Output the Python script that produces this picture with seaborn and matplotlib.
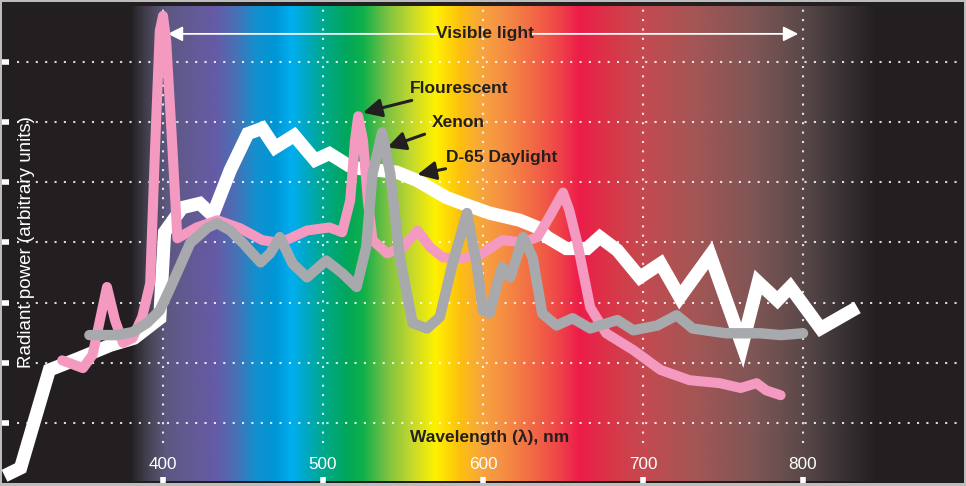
import numpy as np
import pandas as pd
import seaborn as sns
import matplotlib.pyplot as plt
from matplotlib.colors import to_rgb

# --------------
# spectral power curves (wavelength nm, arbitrary units)
d65_nm = [301, 311, 329, 348, 367, 382, 398, 401, 412, 423, 431, 442, 453, 462,
          470, 482, 495, 504, 516, 523, 546, 559, 577, 587, 604, 623, 634, 640,
          652, 665, 673, 684, 698, 711, 723, 742, 762, 772, 784, 792, 811, 834]
d65_val = [0.12, 0.25, 1.88, 2.08, 2.29, 2.41, 2.74, 4.17, 4.58, 4.65, 4.45, 5.20,
           5.81, 5.90, 5.58, 5.78, 5.37, 5.48, 5.28, 5.23, 5.17, 5.03, 4.75, 4.65,
           4.49, 4.37, 4.25, 4.09, 3.90, 3.90, 4.09, 3.87, 3.42, 3.65, 3.09, 3.79,
           2.29, 3.34, 3.04, 3.26, 2.57, 2.92]

fluo_nm = [337, 350, 356, 365, 370, 375, 381, 387, 392, 395, 398, 400, 402, 406,
           409, 421, 434, 448, 462, 473, 490, 504, 512, 517, 520, 522, 525, 528,
           531, 540, 550, 559, 567, 575, 587, 598, 612, 625, 634, 642, 650, 654,
           659, 667, 677, 694, 711, 729, 748, 761, 771, 777, 786]
fluo_val = [2.04, 1.91, 2.13, 3.26, 2.71, 2.33, 2.41, 2.76, 3.32, 5.53, 7.52, 7.77,
            7.36, 5.53, 4.07, 4.25, 4.37, 4.24, 4.04, 3.99, 4.20, 4.25, 4.17, 4.70,
            5.70, 6.10, 5.70, 4.70, 4.04, 3.82, 3.92, 4.20, 3.92, 3.75, 3.74, 3.79,
            4.04, 4.00, 4.09, 4.45, 4.83, 4.53, 3.99, 2.92, 2.49, 2.21, 1.88, 1.71,
            1.66, 1.58, 1.66, 1.54, 1.46]

xenon_nm = [354, 371, 381, 390, 398, 404, 417, 428, 434, 442, 450, 461, 467, 473,
            481, 490, 502, 512, 521, 527, 531, 537, 542, 548, 556, 565, 573, 581,
            590, 596, 600, 604, 609, 612, 617, 621, 625, 631, 637, 646, 656, 667,
            684, 694, 709, 721, 731, 752, 773, 786, 800]
xenon_val = [2.46, 2.46, 2.51, 2.66, 2.87, 3.21, 3.99, 4.25, 4.32, 4.20, 3.99, 3.67,
             3.82, 4.09, 3.65, 3.42, 3.70, 3.49, 3.26, 3.92, 5.15, 5.83, 5.15, 3.75,
             2.66, 2.57, 2.76, 3.65, 4.49, 3.65, 2.87, 2.82, 3.32, 3.59, 3.42, 3.75,
             4.09, 3.75, 2.82, 2.62, 2.74, 2.57, 2.71, 2.54, 2.62, 2.79, 2.57, 2.49,
             2.49, 2.46, 2.49]

# colour stops of the spectrum band behind the chart
spec_nm = [380, 383, 392, 402, 420, 432, 445, 458, 470, 480, 490, 500, 515, 525,
           540, 555, 570, 585, 600, 615, 630, 645, 660, 680, 700, 730, 770, 800,
           820, 845]
spec_col = ['#231f20', '#2e2b32', '#4a4658', '#5d5880', '#635a98', '#665aa6',
            '#4a70b5', '#1390cf', '#0096d6', '#00aeef', '#00a8c0', '#00a88c',
            '#00a65a', '#10b04a', '#7cc242', '#c4d82e', '#fff200', '#fdc10e',
            '#f7a340', '#f58a44', '#f26b45', '#ef4a48', '#ed1c4a', '#d83748',
            '#c44a50', '#a65555', '#7e5655', '#5a4848', '#3e3638', '#231f20']

xticks = [400, 500, 600, 700, 800]
yticks = [1, 2, 3, 4, 5, 6, 7]

# --------------
sns.set_style('dark')
plt.rcParams['font.family'] = ['Liberation Sans', 'DejaVu Sans']

fig = plt.figure(figsize=(9.66, 4.86), dpi=100, facecolor='#bdbdbd')
ax = fig.add_axes([2 / 966, 3 / 486, 962 / 966, 481 / 486])
ax.set_facecolor('#231f20')

# spectrum band
grid = np.linspace(spec_nm[0], spec_nm[-1], 800)
rgb = np.array([to_rgb(c) for c in spec_col])
band = np.stack([np.interp(grid, spec_nm, rgb[:, k]) for k in range(3)], axis=-1)
ax.imshow(band[np.newaxis, :, :], extent=(spec_nm[0], spec_nm[-1], 0.04, 7.93),
          aspect='auto', interpolation='bilinear', zorder=0)

# dotted grid
ax.hlines(yticks, 309, 896, colors='white', linestyles=(0, (1, 3.5)), lw=1.5, alpha=0.85, zorder=1)
ax.vlines(xticks, 0.66, 7.9, colors='white', linestyles=(0, (1, 3.5)), lw=1.5, alpha=0.85, zorder=1)

# curves
df_d65 = pd.DataFrame({'nm': d65_nm, 'val': d65_val})
df_fluo = pd.DataFrame({'nm': fluo_nm, 'val': fluo_val})
df_xenon = pd.DataFrame({'nm': xenon_nm, 'val': xenon_val})

sns.lineplot(data=df_d65, x='nm', y='val', ax=ax, color='white', lw=9.5, estimator=None,
             sort=False, solid_joinstyle='miter', solid_capstyle='butt', zorder=3)
sns.lineplot(data=df_fluo, x='nm', y='val', ax=ax, color='#f49ac1', lw=7.2, estimator=None,
             sort=False, solid_joinstyle='round', solid_capstyle='round', zorder=4)
sns.lineplot(data=df_xenon, x='nm', y='val', ax=ax, color='#a7a9ac', lw=7.5, estimator=None,
             sort=False, solid_joinstyle='round', solid_capstyle='round', zorder=5)

ax.set_xlim(299.4, 900.6)
ax.set_ylim(0, 8)
ax.set_xticks(xticks)
ax.set_yticks(yticks)
ax.set_yticklabels([])
ax.set_xlabel('')
ax.set_ylabel('')
ax.tick_params(axis='x', bottom=True, direction='in', length=4, width=4, color='white',
               labelcolor='white', labelsize=12.3, pad=-19)
ax.tick_params(axis='y', left=True, direction='in', length=5, width=4, color='white')
for s in ax.spines.values():
    s.set_visible(False)

# visible light range
vis = dict(arrowstyle='-|>,head_length=0.9,head_width=0.45', color='white', lw=1.3,
           shrinkA=0, shrinkB=0)
ax.annotate('', xy=(403, 7.47), xytext=(571, 7.47), arrowprops=vis)
ax.annotate('', xy=(797, 7.47), xytext=(631, 7.47), arrowprops=vis)
ax.text(601, 7.47, 'Visible light', ha='center', va='center', fontsize=12.5,
        fontweight='bold', color='#231f20')

# curve labels
arrow = dict(arrowstyle='-|>,head_length=0.9,head_width=0.45', color='#231f20', lw=2.2,
             shrinkA=3, shrinkB=0)
ax.annotate('Flourescent', xy=(525, 6.16), xytext=(554, 6.56), ha='left', va='center',
            fontsize=12.5, fontweight='bold', color='#231f20', arrowprops=arrow)
ax.annotate('Xenon', xy=(540, 5.58), xytext=(568, 6.0), ha='left', va='center',
            fontsize=12.5, fontweight='bold', color='#231f20', arrowprops=arrow)
ax.annotate('D-65 Daylight', xy=(559, 5.13), xytext=(577, 5.42), ha='left', va='center',
            fontsize=12.5, fontweight='bold', color='#231f20', arrowprops=arrow)

# axis titles
ax.text(315, 4.0, 'Radiant power (arbitrary units)', rotation=90, ha='center', va='center',
        fontsize=13.5, color='white')
ax.text(604, 0.76, 'Wavelength (λ), nm', ha='center', va='center', fontsize=12.5,
        fontweight='bold', color='#231f20')

fig.savefig('out.png', dpi=100, facecolor=fig.get_facecolor())
